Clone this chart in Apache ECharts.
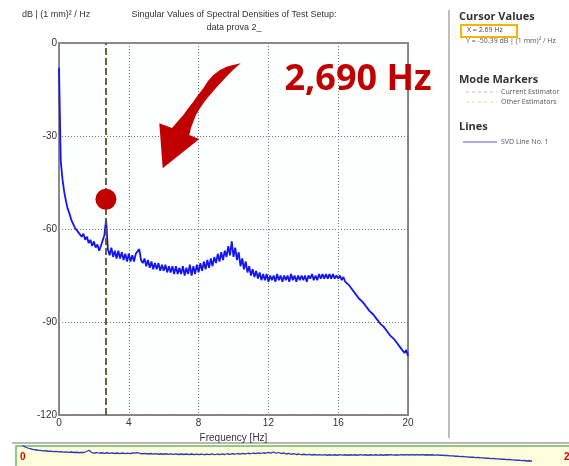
<!DOCTYPE html>
<html><head><meta charset="utf-8">
<script src="https://cdn.jsdelivr.net/npm/echarts@6/dist/echarts.min.js"></script>
<style>html,body{margin:0;padding:0;background:#fff}#c{width:569px;height:466px}</style>
</head><body><div id="c"></div>
<script>
// ---- data ----
const freqStep = 0.1; // Hz between samples
const svdLine1 = [
 -8,-38,-44,-48,-51,-53.5,-55,-57,-57.5,-59.5,
 -59,-61,-60.5,-62.5,-61.5,-63.5,-62.5,-64.5,-63.5,-65.5,
 -64,-66,-65,-67,-65.5,-66,-62,-57,-66.5,-68.5,
 -66,-69,-67,-69.5,-67,-69.5,-67.5,-70,-68,-70.5,
 -68,-70.5,-68.5,-70.5,-68,-67.5,-66.5,-70,-71,-69.5,
 -72,-70,-72.5,-70.5,-73,-71,-73,-71,-73.5,-71.5,
 -73.5,-71.5,-74,-72,-74,-72,-74.5,-72,-74.5,-72.5,
 -74.5,-72,-75,-72.5,-74.5,-71.5,-75,-72,-74.5,-71.5,
 -74,-71,-73.5,-70.5,-73,-70,-72.5,-69.5,-72,-69,
 -71,-68,-70.5,-67.5,-70,-67,-69,-65.5,-68.5,-64,
 -69,-66,-70,-67.5,-72,-69.5,-73,-70.5,-74,-72,
 -75,-73,-75.5,-73.5,-76,-74,-76.5,-74.5,-76.5,-74.5,
 -77,-75,-76.5,-75,-77,-74.5,-76.5,-75,-77,-75,
 -76.5,-75,-77,-74.5,-76.5,-75,-77,-75,-76.5,-75,
 -76.5,-75,-77,-75,-76,-74.5,-76.5,-75,-76.5,-74.5,
 -76,-74.5,-76,-74.5,-76,-74.5,-76,-74.5,-76,-75,
 -76,-75,-76.5,-75.5,-77,-76.5,-78,-78,-79.5,-79.5,
 -81,-80.5,-82.5,-82,-83.5,-83.5,-85,-84.5,-86.5,-86,
 -87.5,-87.5,-89,-88.5,-90.5,-90,-91.5,-91.5,-93,-92.5,
 -94.5,-94,-95.5,-95.5,-97,-96.5,-98.5,-98,-100,-99,
 -101
];
const cursorX = 2.69;
const cursorY = -50.39;
const xTicks = [0, 4, 8, 12, 16, 20];
const yTicks = [0, -30, -60, -90, -120];

const pts = svdLine1.map((v, i) => [+(i * freqStep).toFixed(2), v]);

const FONT = '"Liberation Sans", Arial, sans-serif';
const UIFONT = '"Open Sans", "Noto Sans", sans-serif';

// annotation arrow outline (pixel geometry of the drawn callout)
const arrowPts = [[240.7,63.3],[233,65],[226.7,66.7],[220,70],[213.3,75],[208,81],[203.3,88.3],[198,95],
  [193.3,101.7],[188,108.5],[183.3,115],[178,121],[172,128],[159.3,123.3],[162.7,168.3],[199.3,139],
  [189.3,135],[191,128],[193.3,121.7],[196,115],[200,108.3],[205,101],[210,95],[216,88],[221.7,81.7],
  [227,76],[233,70],[237,66.5]];

const chart = echarts.init(document.getElementById('c'), null, {renderer: 'canvas'});
chart.setOption({
  animation: false,
  backgroundColor: '#ffffff',
  grid: [
    {left: 59, right: 161, top: 43, bottom: 51, show: true, borderColor: '#8a8a8a', borderWidth: 2, backgroundColor: '#fdfffe'},
    {left: 20, width: 512, top: 446, height: 32, show: false}
  ],
  xAxis: [
    {gridIndex: 0, type: 'value', min: 0, max: 20, interval: 4,
     name: 'Frequency [Hz]', nameLocation: 'middle', nameGap: 12,
     nameTextStyle: {fontFamily: FONT, fontSize: 10, color: '#333'},
     axisLine: {lineStyle: {color: '#8a8a8a', width: 2}}, axisTick: {show: false},
     axisLabel: {fontFamily: FONT, fontSize: 10, color: '#333', margin: 3},
     splitLine: {show: true, lineStyle: {color: '#777', type: [1, 2], width: 1}}},
    {gridIndex: 1, type: 'value', min: 0, max: 20, show: false}
  ],
  yAxis: [
    {gridIndex: 0, type: 'value', min: -120, max: 0, interval: 30,
     axisLine: {show: true, lineStyle: {color: '#8a8a8a', width: 2}}, axisTick: {show: false},
     axisLabel: {fontFamily: FONT, fontSize: 10, color: '#333', margin: 2},
     splitLine: {show: true, lineStyle: {color: '#777', type: [1, 2], width: 1}}},
    {gridIndex: 1, type: 'value', min: -120, max: -40, show: false}
  ],
  series: [
    {type: 'line', xAxisIndex: 0, yAxisIndex: 0, data: pts, showSymbol: false, smooth: false,
     lineStyle: {color: '#1414f5', width: 1.8}, z: 3,
     markLine: {silent: true, symbol: 'none', label: {show: false},
       lineStyle: {color: '#5e5230', type: [7, 3], width: 1.8},
       data: [{xAxis: cursorX}]},
     markPoint: {silent: true, symbol: 'circle', symbolSize: 21, label: {show: false},
       itemStyle: {color: '#c00000'},
       data: [{coord: [cursorX, cursorY]}]}
    },
    {type: 'line', xAxisIndex: 1, yAxisIndex: 1, data: pts, showSymbol: false,
     lineStyle: {color: '#2a3ab8', width: 1.3}, z: 5}
  ],
  graphic: [
    {type: 'text', x: 22, y: 10, style: {text: 'dB | (1 mm)² / Hz', font: '9px ' + FONT, fill: '#333'}},
    {type: 'text', x: 234, y: 10, style: {text: 'Singular Values of Spectral Densities of Test Setup:', font: '9px ' + FONT, fill: '#333', textAlign: 'center'}},
    {type: 'text', x: 234, y: 23, style: {text: 'data prova 2_', font: '9px ' + FONT, fill: '#333', textAlign: 'center'}},
    {type: 'polygon', z: 20, shape: {points: arrowPts}, style: {fill: '#c00000'}},
    {type: 'text', z: 20, x: 358, y: 80, style: {text: '2,690 Hz', font: 'bold 36px ' + UIFONT, fill: '#c00000', textAlign: 'center', textVerticalAlign: 'middle'}},
    {type: 'line', shape: {x1: 449, y1: 10, x2: 449, y2: 438}, style: {stroke: '#bdbdbd', lineWidth: 2}},
    {type: 'text', x: 459, y: 11, style: {text: 'Cursor Values', font: 'bold 11px ' + UIFONT, fill: '#333'}},
    {type: 'rect', shape: {x: 461, y: 25, width: 56, height: 12}, style: {fill: 'none', stroke: '#f2b400', lineWidth: 2}},
    {type: 'text', x: 467, y: 26.5, style: {text: 'X = 2.69 Hz', font: '7px ' + UIFONT, fill: '#445'}},
    {type: 'text', x: 466, y: 37, style: {text: 'Y = -50.39 dB | (1 mm)² / Hz', font: '7px ' + UIFONT, fill: '#555'}},
    {type: 'text', x: 459, y: 74, style: {text: 'Mode Markers', font: 'bold 11px ' + UIFONT, fill: '#333'}},
    {type: 'line', shape: {x1: 466, y1: 92, x2: 497, y2: 92}, style: {stroke: '#e8a8b0', lineWidth: 1, lineDash: [3, 3]}},
    {type: 'text', x: 501, y: 88, style: {text: 'Current Estimator', font: '7px ' + UIFONT, fill: '#555'}},
    {type: 'line', shape: {x1: 466, y1: 102, x2: 497, y2: 102}, style: {stroke: '#e6dca0', lineWidth: 1, lineDash: [3, 3]}},
    {type: 'text', x: 501, y: 98, style: {text: 'Other Estimators', font: '7px ' + UIFONT, fill: '#555'}},
    {type: 'text', x: 459, y: 121, style: {text: 'Lines', font: 'bold 11px ' + UIFONT, fill: '#333'}},
    {type: 'line', shape: {x1: 463, y1: 142, x2: 497, y2: 142}, style: {stroke: '#9090e0', lineWidth: 1.5}},
    {type: 'text', x: 501, y: 138, style: {text: 'SVD Line No. 1', font: '7px ' + UIFONT, fill: '#555'}},
    {type: 'line', shape: {x1: 12, y1: 443, x2: 569, y2: 443}, style: {stroke: '#b8b8b8', lineWidth: 2}},
    {type: 'rect', z: -1, shape: {x: 16, y: 446, width: 560, height: 30}, style: {fill: '#fdfddc', stroke: '#6cb86c', lineWidth: 1.5}},
    {type: 'text', z: 10, x: 20, y: 452, style: {text: '0', font: 'bold 10px ' + FONT, fill: '#e00000'}},
    {type: 'text', z: 10, x: 564, y: 452, style: {text: '2', font: 'bold 10px ' + FONT, fill: '#e00000'}}
  ]
});
</script></body></html>
